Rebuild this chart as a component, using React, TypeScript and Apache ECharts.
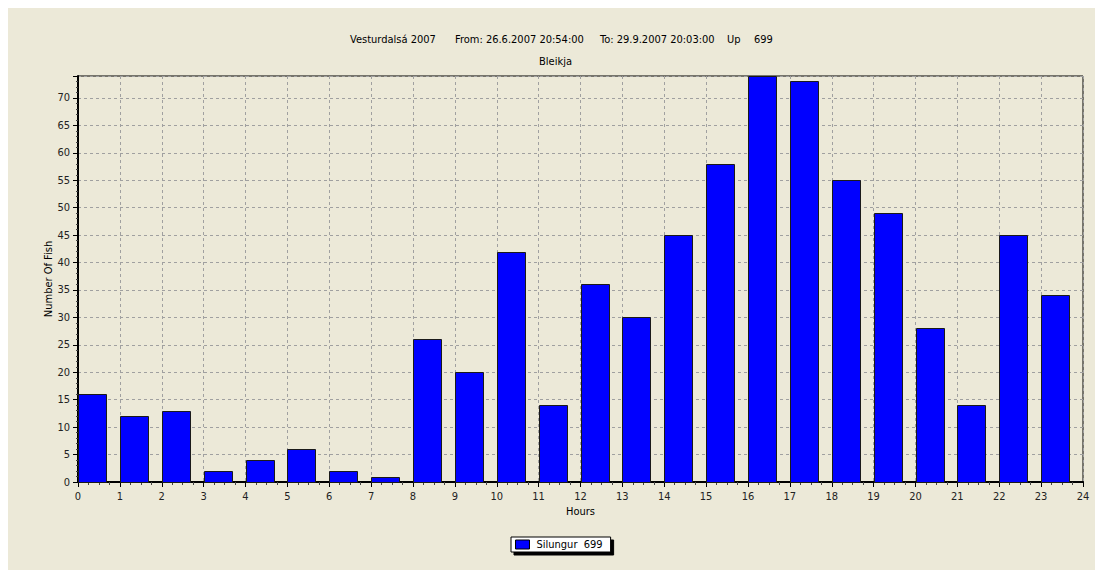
import React, { useEffect, useRef } from "react";
import * as echarts from "echarts";

const hours = [0, 1, 2, 3, 4, 5, 6, 7, 8, 9, 10, 11, 12, 13, 14, 15, 16, 17, 18, 19, 20, 21, 22, 23];
const fishCounts = [16, 12, 13, 2, 4, 6, 2, 1, 26, 20, 42, 14, 36, 30, 45, 58, 74, 73, 55, 49, 28, 14, 45, 34];
const titleParts = ["Vesturdalsá 2007", "From: 26.6.2007 20:54:00", "To: 29.9.2007 20:03:00", "Up", "699"];
const subTitle = "Bleikja";
const seriesName = "Silungur  699";
const xAxisName = "Hours";
const yAxisName = "Number Of Fish";
const xMax = 24;
const yMax = 74;
const barSpan = 0.667;

const FONT = "'DejaVu Sans Condensed', 'Liberation Sans', Tahoma, sans-serif";

export default function App() {
  const ref = useRef<HTMLDivElement>(null);
  useEffect(() => {
    if (!ref.current) return;
    const chart = echarts.init(ref.current, null, { renderer: "svg" });
    const titleX = [342, 447, 592, 719, 746];
    chart.setOption({
      animation: false,
      backgroundColor: "#ECE9D8",
      textStyle: { fontFamily: FONT },
      graphic: [
        ...titleParts.map((t, i) => ({
          type: "text",
          left: titleX[i],
          top: 26,
          style: { text: t, fontSize: 11, fill: "#000", fontFamily: FONT },
        })),
        {
          type: "text",
          left: "center",
          top: 48,
          style: { text: subTitle, fontSize: 11, fill: "#000", fontFamily: FONT },
        },
      ],
      legend: {
        data: [{ name: seriesName, icon: "rect" }],
        left: 503,
        top: 529,
        padding: [2, 8, 2, 4],
        itemWidth: 14,
        itemHeight: 9,
        itemGap: 4,
        backgroundColor: "#fff",
        borderColor: "#000",
        borderWidth: 1,
        shadowColor: "#000",
        shadowBlur: 0.1,
        shadowOffsetX: 3,
        shadowOffsetY: 3,
        itemStyle: { color: "#0000FF", borderColor: "#000", borderWidth: 1 },
        textStyle: { fontSize: 11, color: "#000", fontFamily: FONT, padding: [0, 0, 0, 2] },
      },
      grid: {
        left: 70,
        top: 68,
        right: 20,
        bottom: 88,
        show: true,
        borderColor: "#000",
        borderWidth: 1,
        backgroundColor: "transparent",
      },
      xAxis: {
        type: "value",
        min: 0,
        max: xMax,
        interval: 1,
        name: xAxisName,
        nameLocation: "middle",
        nameGap: 24,
        nameMoveOverlap: false,
        nameTextStyle: { fontSize: 11, color: "#000", fontFamily: FONT },
        axisLine: { show: true, lineStyle: { color: "#000", width: 2 } },
        axisTick: { show: true, length: 5, lineStyle: { color: "#000" } },
        minorTick: { show: true, splitNumber: 4, length: 3, lineStyle: { color: "#444" } },
        axisLabel: { fontSize: 11, color: "#222", margin: 9, fontFamily: FONT },
        splitLine: { show: true, lineStyle: { color: "#A0A0A0", type: [3, 3], width: 1 } },
      },
      yAxis: {
        type: "value",
        min: 0,
        max: yMax,
        interval: 5,
        name: yAxisName,
        nameLocation: "middle",
        nameGap: 24,
        nameMoveOverlap: false,
        nameTextStyle: { fontSize: 11, color: "#000", fontFamily: FONT },
        axisLine: { show: true, lineStyle: { color: "#000", width: 2 } },
        axisTick: { show: true, length: 5, lineStyle: { color: "#000" } },
        minorTick: { show: true, splitNumber: 5, length: 2, lineStyle: { color: "#444" } },
        axisLabel: { fontSize: 11, color: "#222", margin: 8, showMaxLabel: false, fontFamily: FONT },
        splitLine: { show: true, lineStyle: { color: "#A0A0A0", type: [3, 3], width: 1 } },
      },
      series: [
        {
          type: "custom",
          name: seriesName,
          itemStyle: { color: "#0000FF", borderColor: "#000", borderWidth: 1 },
          encode: { x: 0, y: 1 },
          data: hours.map((h, i) => [h, fishCounts[i]]),
          renderItem: (params: any, api: any) => {
            const h = api.value(0);
            const v = api.value(1);
            const p0 = api.coord([h, 0]);
            const p1 = api.coord([h + barSpan, v]);
            return {
              type: "rect",
              shape: {
                x: Math.round(p0[0]) + 0.5,
                y: Math.round(p1[1]) + 0.5,
                width: Math.round(p1[0] - p0[0]),
                height: Math.round(p0[1] - p1[1]),
              },
              style: { fill: "#0000FF", stroke: "#1a1a1a", lineWidth: 1 },
            };
          },
        },
      ],
    });
    return () => chart.dispose();
  }, []);
  return <div ref={ref} style={{ width: 1095, height: 562 }} />;
}
